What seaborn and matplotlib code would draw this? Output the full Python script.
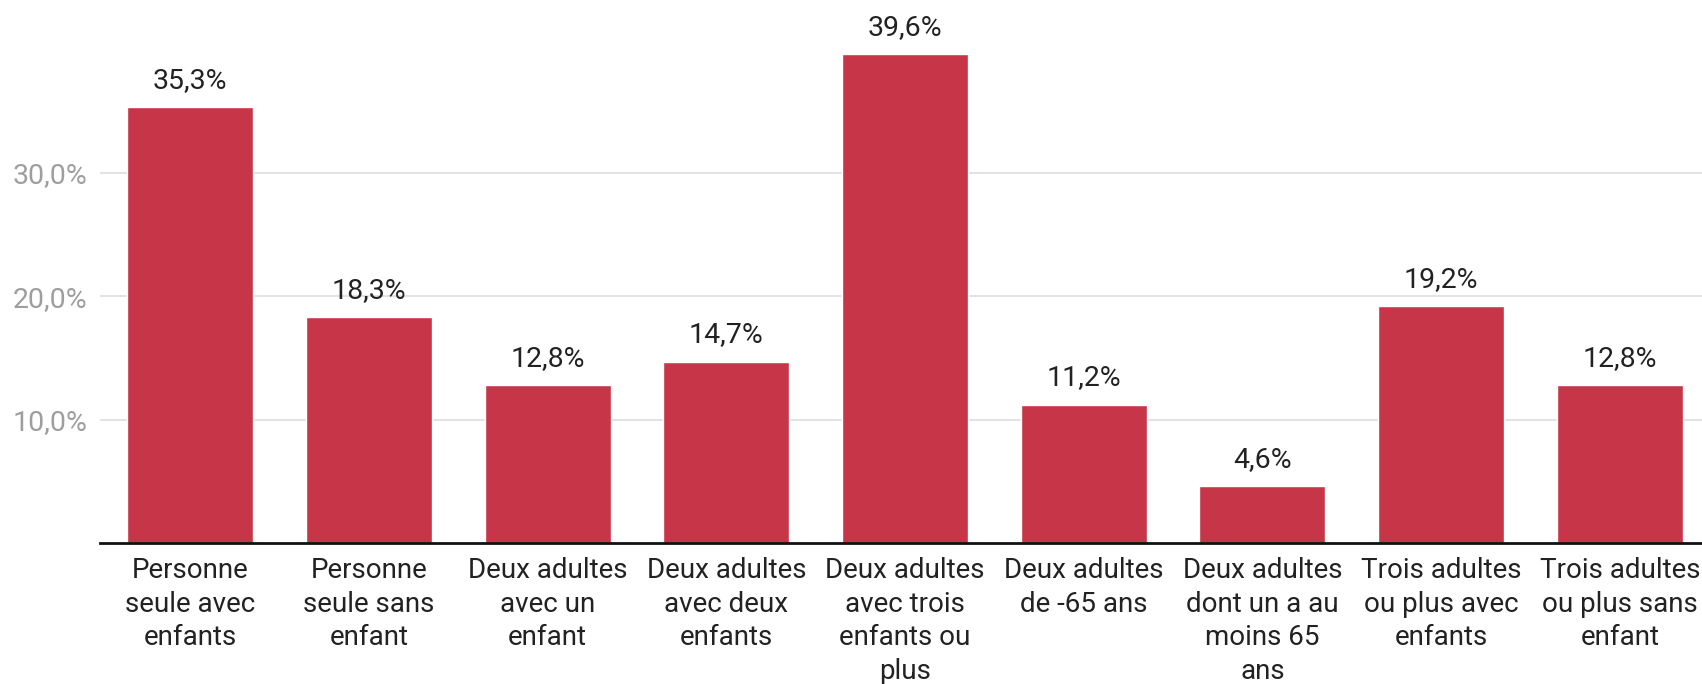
import matplotlib
matplotlib.use("Agg")
import matplotlib.pyplot as plt
import seaborn as sns
import pandas as pd

categories = [
    "Personne\nseule avec\nenfants",
    "Personne\nseule sans\nenfant",
    "Deux adultes\navec un\nenfant",
    "Deux adultes\navec deux\nenfants",
    "Deux adultes\navec trois\nenfants ou\nplus",
    "Deux adultes\nde -65 ans",
    "Deux adultes\ndont un a au\nmoins 65\nans",
    "Trois adultes\nou plus avec\nenfants",
    "Trois adultes\nou plus sans\nenfant",
]
values = [35.3, 18.3, 12.8, 14.7, 39.6, 11.2, 4.6, 19.2, 12.8]
ytick_values = [10, 20, 30]
ytick_labels = ["10,0%", "20,0%", "30,0%"]

sns.set_theme(style="white")
plt.rcParams["font.family"] = ["Roboto", "DejaVu Sans"]

df = pd.DataFrame({"cat": categories, "val": values})

fig = plt.figure(figsize=(17.02, 6.84), dpi=100)
ax = fig.add_axes([0.0588, 0.206, 0.9412, 0.722])

sns.barplot(data=df, x="cat", y="val", color="#C73549", saturation=1,
            width=0.705, ax=ax, zorder=3)

ax.set_xlim(-0.504, 8.46)
ax.set_ylim(0, 40)
ax.set_yticks(ytick_values)
ax.set_yticklabels(ytick_labels, color="#9e9e9e", fontsize=20.5)
ax.tick_params(axis="y", length=0, pad=9)
ax.tick_params(axis="x", length=0, pad=10, labelsize=20, labelcolor="#222222")
for lbl in ax.get_xticklabels():
    lbl.set_linespacing(1.32)
    lbl.set_verticalalignment("top")
    lbl.set_horizontalalignment("center")

ax.yaxis.grid(True, color="#e3e3e3", linewidth=1.5, zorder=0)
ax.xaxis.grid(False)
for s in ["top", "right", "left"]:
    ax.spines[s].set_visible(False)
ax.spines["bottom"].set_color("#111111")
ax.spines["bottom"].set_linewidth(2)
ax.spines["bottom"].set_zorder(4)

ax.set_xlabel("")
ax.set_ylabel("")

for i, v in enumerate(values):
    ax.annotate(f"{v:.1f}%".replace(".", ","), xy=(i, v), xytext=(0, 14),
                textcoords="offset points", ha="center", va="baseline",
                fontsize=20.5, color="#222222", annotation_clip=False)

fig.savefig("out.png", dpi=100)
